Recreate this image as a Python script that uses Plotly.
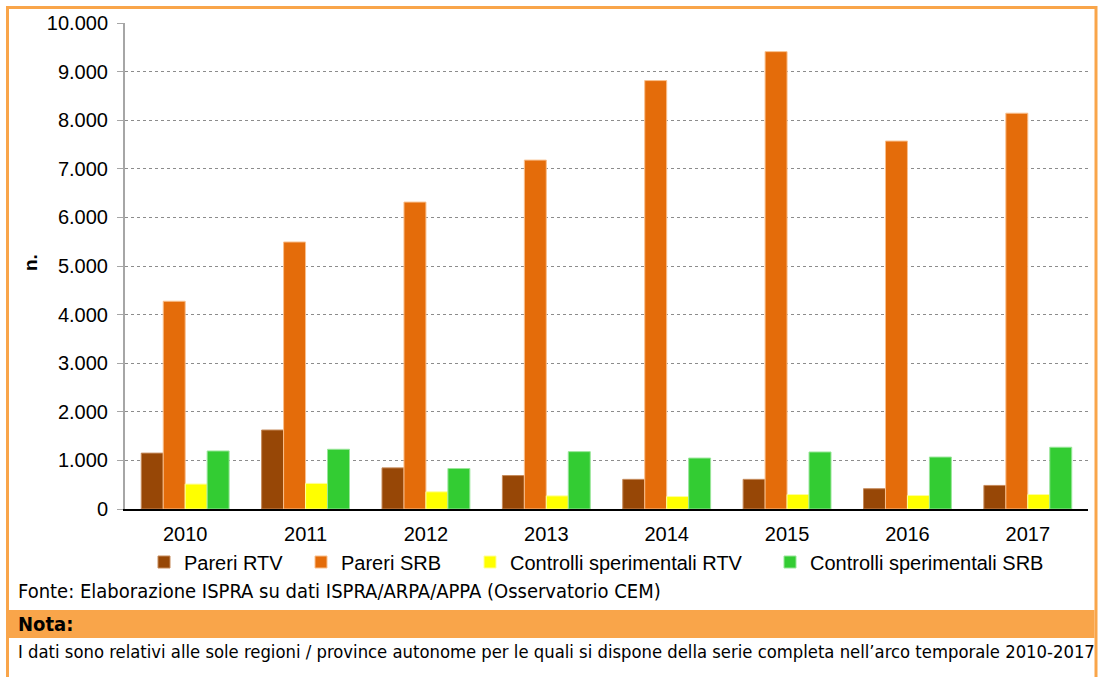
import plotly.graph_objects as go

# dati
anni = ["2010", "2011", "2012", "2013", "2014", "2015", "2016", "2017"]
pareri_rtv = [1150, 1625, 846, 688, 610, 610, 417, 485]
pareri_srb = [4275, 5494, 6315, 7179, 8815, 9411, 7571, 8144]
controlli_rtv = [513, 527, 354, 270, 256, 298, 277, 298]
controlli_srb = [1194, 1229, 833, 1180, 1048, 1173, 1069, 1271]

serie = [
    ("Pareri RTV", pareri_rtv, "#974706", "#C58A5A"),
    ("Pareri SRB", pareri_srb, "#E46C0A", "#F9C08E"),
    ("Controlli sperimentali RTV", controlli_rtv, "#FFFF00", "#FFFF99"),
    ("Controlli sperimentali SRB", controlli_srb, "#33CC33", "#99E699"),
]

W, H = 1098, 677
L, R, T, B = 125, 10, 23, 168
PW, PH = W - L - R, H - T - B


# da pixel della pagina a coordinate "paper"
def px(x):
    return (x - L) / PW


def py(y):
    return (H - B - y) / PH


fig = go.Figure()
legende = ["legend", "legend2", "legend3", "legend4"]
for (nome, valori, colore, bordo), leg in zip(serie, legende):
    fig.add_trace(go.Bar(
        name=nome, x=anni, y=valori, legend=leg,
        marker=dict(color=colore, line=dict(color=bordo, width=1)),
    ))

arancio = "#F9A54A"
font = "Liberation Sans, Arial, sans-serif"
narrow = "DejaVu Sans Condensed, sans-serif"

# inizio del testo di ogni voce di legenda
inizio_voci = [184, 341, 510, 810]
legend_cfg = {}
for leg, xs in zip(legende, inizio_voci):
    legend_cfg[leg] = dict(x=px(xs - 40), xanchor="left", y=py(562), yanchor="middle",
                           font=dict(size=20), itemwidth=30, bgcolor="rgba(0,0,0,0)")

fig.update_layout(
    width=W, height=H,
    margin=dict(l=L, r=R, t=T, b=B, autoexpand=False),
    paper_bgcolor="white", plot_bgcolor="white",
    font=dict(family=font, size=20, color="black"),
    separators=",.",
    barmode="group", bargap=0.27, bargroupgap=0,
    showlegend=True,
    shapes=[
        # cornice
        dict(type="rect", xref="paper", yref="paper", x0=px(7.5), x1=px(1096),
             y0=py(7.5), y1=py(720), line=dict(color=arancio, width=3)),
        # fascia nota
        dict(type="rect", xref="paper", yref="paper", x0=px(9), x1=px(1094.5),
             y0=py(610), y1=py(638), fillcolor=arancio, line=dict(width=0), layer="below"),
    ],
    annotations=[
        dict(text="<b>n.</b>", xref="paper", yref="paper", x=px(30), y=py(263),
             xanchor="center", yanchor="middle",
             textangle=-90, showarrow=False, font=dict(size=19)),
        dict(text="Fonte: Elaborazione ISPRA su dati ISPRA/ARPA/APPA (Osservatorio CEM)",
             xref="paper", yref="paper", x=px(16), y=py(591), xanchor="left", yanchor="middle",
             showarrow=False, font=dict(family=narrow, size=20)),
        dict(text="<b>Nota:</b>", xref="paper", yref="paper", x=px(16), y=py(624),
             xanchor="left", yanchor="middle", showarrow=False, font=dict(family=narrow, size=20)),
        dict(text="I dati sono relativi alle sole regioni / province autonome per le quali si dispone "
                  "della serie completa nell\u2019arco temporale 2010-2017",
             xref="paper", yref="paper", x=px(16), y=py(651), xanchor="left", yanchor="middle",
             showarrow=False, font=dict(family=narrow, size=18.3)),
    ],
    **legend_cfg,
)

fig.update_xaxes(
    showline=True, linecolor="black", linewidth=2, ticks="", showgrid=False,
    ticklabelstandoff=6, tickfont=dict(size=20), automargin=False,
)
fig.update_yaxes(
    range=[0, 10000], dtick=1000, tickformat=",d",
    showline=True, linecolor="#A6A6A6", linewidth=2,
    ticks="outside", ticklen=6, tickcolor="#A6A6A6", tickwidth=1,
    showgrid=True, gridcolor="#8C8C8C", gridwidth=1, griddash="dot",
    zeroline=False, ticklabelstandoff=5, tickfont=dict(size=20), automargin=False,
)

# niente margine della pagina, così la figura occupa tutta la finestra
fig.write_html("out.html", config={"displayModeBar": False},
               post_script="document.body.style.margin = '0';")
